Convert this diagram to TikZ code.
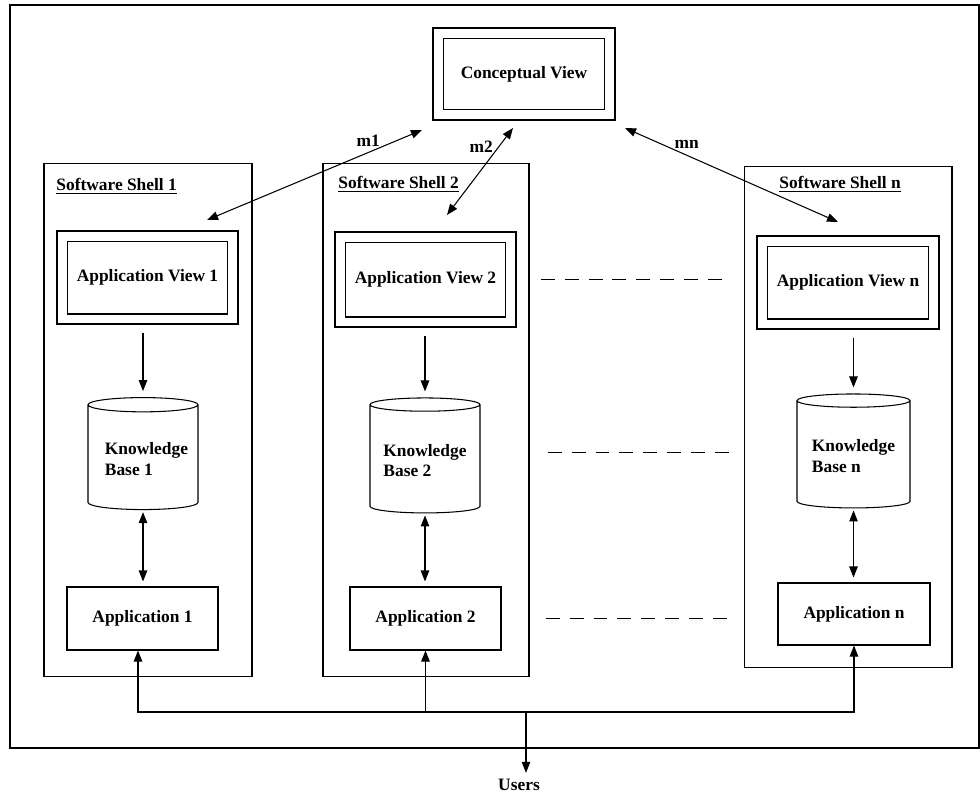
\documentclass[tikz,border=0pt]{standalone}
\usepackage{fontspec}
\setmainfont{Liberation Serif}
\usetikzlibrary{positioning,shapes.geometric,arrows.meta}
\tikzstyle{shell}=[
	rectangle,
	draw=black,
	line width=0.6pt
	]
\tikzstyle{view}=[
	rectangle,
	draw=black,
	double,
	double distance=0.18cm,
	line width=0.6pt,
	text centered
	]
\tikzstyle{base}=[
	cylinder,
	shape border rotate=90,
	aspect=0.14,
	draw=black,
	line width=0.6pt,
	align=left
	]
\tikzstyle{app}=[
	rectangle,
	draw=black,
	line width=0.6pt,
	text centered
	]
\tikzstyle{dashline}=[dash pattern=on 0.28cm off 0.2cm]
\tikzset{every node/.style={font=\bfseries\fontsize{9.9}{11.5}\selectfont}}

\begin{document}
\begin{tikzpicture}[x=0.02cm, y=-0.02cm, line width=0.6pt, >={Triangle[length=2.2mm,width=1.7mm]}]
		\useasboundingbox (0,0) rectangle (980,795);
		\draw (10,5) rectangle (979,748);

		\node (Concept) [view, minimum width=3.44cm, minimum height=1.64cm] at (524,74) {Conceptual View};

		\node (Shell1) [shell, minimum width=4.16cm, minimum height=10.28cm] at (148,420) {};
		\node (Shell2) [shell, minimum width=4.12cm, minimum height=10.28cm] at (426,420) {};
		\node (ShellN) [shell, minimum width=4.16cm, minimum height=10.04cm] at (848,417) {};

		\node (Title1) [anchor=west] at (50,186) {\underline{Software Shell 1}};
		\node (Title2) [anchor=west] at (332,184) {\underline{Software Shell 2}};
		\node (TitleN) [anchor=west] at (773,184) {\underline{Software Shell n}};

		\node (View1) [view, minimum width=3.42cm, minimum height=1.66cm] at (147.5,277.5) {Application View 1};
		\node (View2) [view, minimum width=3.42cm, minimum height=1.70cm] at (425.5,279.5) {Application View 2};
		\node (ViewN) [view, minimum width=3.44cm, minimum height=1.66cm] at (848,282.5) {Application View n};

		\node (Base1) [base, minimum width=2.2cm, minimum height=2.24cm] at (143,459) {\hspace*{0.14cm}Knowledge\\\hspace*{0.14cm}Base 1};
		\node (Base2) [base, minimum width=2.2cm, minimum height=2.30cm] at (425,460.5) {Knowledge\\Base 2};
		\node (BaseN) [base, minimum width=2.26cm, minimum height=2.28cm] at (853.5,456) {Knowledge\\Base n};

		\node (App1) [app, minimum width=3.02cm, minimum height=1.26cm] at (142.5,618.5) {Application 1};
		\node (App2) [app, minimum width=3.02cm, minimum height=1.26cm] at (425.5,618.5) {Application 2};
		\node (AppN) [app, minimum width=3.04cm, minimum height=1.24cm] at (854,614) {Application n};

		\foreach \i in {1,2,N} {
			\draw[->, shorten <=0.26cm, shorten >=0.12cm] (Base\i.north |- View\i.south) -- (Base\i.north);
			\draw[<->, shorten <=0.04cm, shorten >=0.1cm] (Base\i.south) -- (Base\i.south |- App\i.north);
		}

		% mappings to the conceptual view
		\coordinate (M1a) at (207,220);
		\coordinate (M1b) at (422,130);
		\coordinate (M2a) at (447,215);
		\coordinate (M2b) at (513,128);
		\coordinate (MNa) at (838,222);
		\coordinate (MNb) at (625,128);
		\draw[<->] (M1a) -- node[pos=0.75, above] {m1} (M1b);
		\draw[<->] (M2a) -- node[pos=0.79, left] {m2} (M2b);
		\draw[<->] (MNb) -- node[pos=0.29, above] {mn} (MNa);

		\draw[dashline] ([xshift=0.22cm]Shell2.east |- View2) -- ([xshift=-0.28cm]ShellN.west |- View2);
		\draw[dashline] ([xshift=0.36cm, yshift=0.16cm]Shell2.east |- Base2) -- ([xshift=-0.14cm, yshift=0.16cm]ShellN.west |- Base2);
		\draw[dashline] ([xshift=0.32cm]Shell2.east |- App2) -- ([xshift=-0.14cm]ShellN.west |- App2);

		% users
		\coordinate (Bus) at (526,712);
		\node (Users) at (519,785) {Users};
		\draw[->] (Bus) -| ([xshift=-0.09cm]App1.south);
		\draw[->] (Bus) -| (App2.south);
		\draw[->] (Bus) -| (AppN.south);
		\draw[->] (Bus) -- (Bus |- Users.north);

	\end{tikzpicture}
\end{document}
